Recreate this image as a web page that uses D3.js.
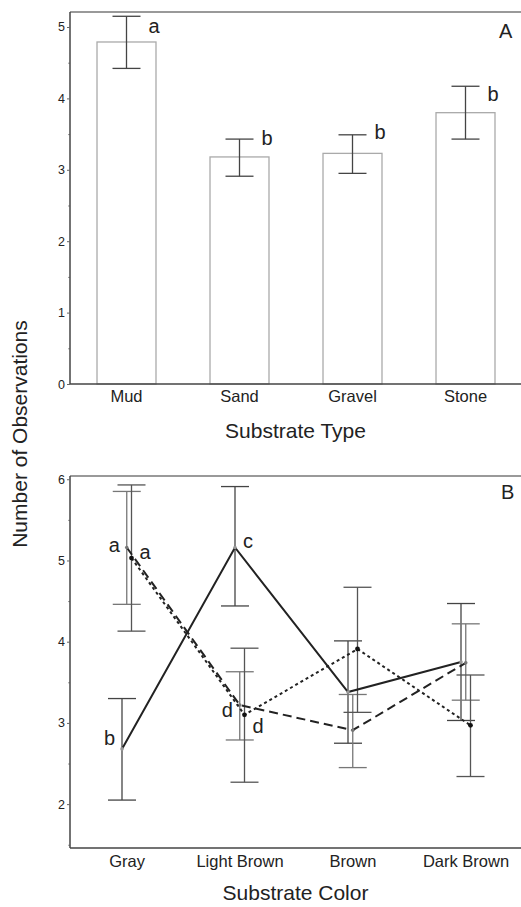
<!DOCTYPE html>
<html>
<head>
<meta charset="utf-8">
<script src="https://cdn.jsdelivr.net/npm/d3@7"></script>
<style>
  body { margin: 0; background: #fff; }
  svg text { font-family: "Liberation Sans", Arial, sans-serif; fill: #222; }
</style>
</head>
<body>
<div id="graph"></div>
<script>
// panel A: substrate type
let substrateTypes = ["Mud", "Sand", "Gravel", "Stone"];
let typeMeans = [4.79, 3.18, 3.23, 3.80];
let typeLow = [4.42, 2.91, 2.95, 3.43];
let typeHigh = [5.15, 3.43, 3.49, 4.17];
let typeLetters = ["a", "b", "b", "b"];
let typeLetterAt = [4.92, 3.35, 3.43, 3.97];

// panel B: substrate color, three groups
let substrateColors = ["Gray", "Light Brown", "Brown", "Dark Brown"];
let seriesNames = ["solid", "dashed", "dotted"];
let solidMeans = [2.68, 5.16, 3.38, 3.75];
let solidLow = [2.05, 4.44, 2.75, 3.03];
let solidHigh = [3.30, 5.91, 4.01, 4.47];
let dashedMeans = [5.16, 3.22, 2.91, 3.74];
let dashedLow = [4.46, 2.79, 2.45, 3.28];
let dashedHigh = [5.85, 3.63, 3.35, 4.22];
let dottedMeans = [5.03, 3.10, 3.91, 2.97];
let dottedLow = [4.13, 2.27, 3.13, 2.34];
let dottedHigh = [5.93, 3.92, 4.67, 3.59];
// letters: series, category, letter, side, baseline value
let colorLetterSeries = ["solid", "solid", "dashed", "dotted", "dashed", "dotted"];
let colorLetterCats = ["Gray", "Light Brown", "Gray", "Gray", "Light Brown", "Light Brown"];
let colorLetters = ["b", "c", "a", "a", "d", "d"];
let colorLetterSide = ["left", "right", "left", "right", "left", "right"];
let colorLetterAt = [2.73, 5.15, 5.10, 5.02, 3.07, 2.87];

let width = 521, height = 907;
let left = 70, right = 522;

let svg = d3.select("#graph")
    .append("svg")
    .attr("width", width)
    .attr("height", height);

// ---------- panel A ----------
let xA = d3.scaleBand()
    .domain(substrateTypes)
    .range([left, right])
    .paddingInner(0.478)
    .paddingOuter(0.239);

let yA = d3.scaleLinear()
    .domain([0, 5.21])
    .range([384, 12]);

let capW = 14;
let dataA = substrateTypes.map((d, i) => ({
    name: d, mean: typeMeans[i], lo: typeLow[i], hi: typeHigh[i],
    letter: typeLetters[i], at: typeLetterAt[i]
}));

let gA = svg.append("g");

// frame top line
gA.append("line")
    .attr("x1", left).attr("x2", width)
    .attr("y1", yA.range()[1]).attr("y2", yA.range()[1])
    .attr("stroke", "#777").attr("stroke-width", 1.5);

gA.selectAll("rect.bar")
    .data(dataA)
    .enter()
    .append("rect")
    .attr("class", "bar")
    .attr("x", d => xA(d.name))
    .attr("y", d => yA(d.mean))
    .attr("width", xA.bandwidth())
    .attr("height", d => yA(0) - yA(d.mean))
    .attr("fill", "#fff")
    .attr("stroke", "#aaa")
    .attr("stroke-width", 1.3);

let errA = gA.selectAll("g.err")
    .data(dataA)
    .enter()
    .append("g")
    .attr("class", "err")
    .attr("stroke", "#444")
    .attr("stroke-width", 1.3);

errA.append("line")
    .attr("x1", d => xA(d.name) + xA.bandwidth() / 2)
    .attr("x2", d => xA(d.name) + xA.bandwidth() / 2)
    .attr("y1", d => yA(d.lo))
    .attr("y2", d => yA(d.hi));
errA.append("line")
    .attr("x1", d => xA(d.name) + xA.bandwidth() / 2 - capW)
    .attr("x2", d => xA(d.name) + xA.bandwidth() / 2 + capW)
    .attr("y1", d => yA(d.hi)).attr("y2", d => yA(d.hi));
errA.append("line")
    .attr("x1", d => xA(d.name) + xA.bandwidth() / 2 - capW)
    .attr("x2", d => xA(d.name) + xA.bandwidth() / 2 + capW)
    .attr("y1", d => yA(d.lo)).attr("y2", d => yA(d.lo));

gA.selectAll("text.letter")
    .data(dataA)
    .enter()
    .append("text")
    .attr("class", "letter")
    .attr("x", d => xA(d.name) + xA.bandwidth() / 2 + capW + 8)
    .attr("y", d => yA(d.at))
    .style("font-size", "20px")
    .text(d => d.letter);

gA.append("text")
    .attr("x", 499).attr("y", 38)
    .style("font-size", "20px")
    .text("A");

drawYAxis(gA, yA, d3.range(0, 6, 1), d3.range(0.5, 5, 1));

gA.append("g")
    .attr("transform", `translate(0, ${yA(0)})`)
    .call(d3.axisBottom(xA).tickSize(0).tickPadding(6))
    .call(g => g.select(".domain").attr("d", `M${left},0H${width}`).attr("stroke", "#444").attr("stroke-width", 1.5))
    .call(g => g.selectAll("text").style("font-size", "16.5px").attr("fill", "#333"));

gA.append("text")
    .attr("x", (left + width) / 2).attr("y", 438)
    .style("text-anchor", "middle")
    .style("font-size", "21px")
    .text("Substrate Type");

// ---------- panel B ----------
let xB = d3.scalePoint()
    .domain(substrateColors)
    .range([left, right])
    .padding(0.5);

let dodge = d3.scalePoint()
    .domain(seriesNames)
    .range([-4.5, 5]);

let yB = d3.scaleLinear()
    .domain([1.46, 6.04])
    .range([848, 476]);

let seriesData = {
    solid: { means: solidMeans, lo: solidLow, hi: solidHigh, dash: null, marker: "#999", r: 1.8, err: "#444" },
    dashed: { means: dashedMeans, lo: dashedLow, hi: dashedHigh, dash: "9,5", marker: "#777", r: 1.8, err: "#777" },
    dotted: { means: dottedMeans, lo: dottedLow, hi: dottedHigh, dash: "3,3", marker: "#111", r: 2.4, err: "#555" }
};

let gB = svg.append("g");

gB.append("line")
    .attr("x1", left).attr("x2", width)
    .attr("y1", yB.range()[1]).attr("y2", yB.range()[1])
    .attr("stroke", "#777").attr("stroke-width", 1.5);

let px = (s, c) => xB(c) + dodge(s);

seriesNames.forEach(function (s) {
    let sd = seriesData[s];
    let pts = substrateColors.map((c, i) => ({ c: c, mean: sd.means[i], lo: sd.lo[i], hi: sd.hi[i] }));

    let eb = gB.append("g")
        .attr("stroke", sd.err)
        .attr("stroke-width", 1.3)
        .selectAll("g")
        .data(pts)
        .enter()
        .append("g");
    eb.append("line")
        .attr("x1", d => px(s, d.c)).attr("x2", d => px(s, d.c))
        .attr("y1", d => yB(d.lo)).attr("y2", d => yB(d.hi));
    eb.append("line")
        .attr("x1", d => px(s, d.c) - capW).attr("x2", d => px(s, d.c) + capW)
        .attr("y1", d => yB(d.hi)).attr("y2", d => yB(d.hi));
    eb.append("line")
        .attr("x1", d => px(s, d.c) - capW).attr("x2", d => px(s, d.c) + capW)
        .attr("y1", d => yB(d.lo)).attr("y2", d => yB(d.lo));
});

seriesNames.forEach(function (s) {
    let sd = seriesData[s];
    let pts = substrateColors.map((c, i) => ({ c: c, mean: sd.means[i] }));
    let line = d3.line()
        .x(d => px(s, d.c))
        .y(d => yB(d.mean));
    gB.append("path")
        .datum(pts)
        .attr("d", line)
        .attr("fill", "none")
        .attr("stroke", "#222")
        .attr("stroke-width", 2)
        .attr("stroke-dasharray", sd.dash);
    gB.selectAll(null)
        .data(pts)
        .enter()
        .append("circle")
        .attr("cx", d => px(s, d.c))
        .attr("cy", d => yB(d.mean))
        .attr("r", sd.r)
        .attr("fill", sd.marker);
});

let lettersB = colorLetters.map((l, i) => ({
    s: colorLetterSeries[i], c: colorLetterCats[i], letter: l,
    side: colorLetterSide[i], at: colorLetterAt[i]
}));

gB.selectAll("text.letter")
    .data(lettersB)
    .enter()
    .append("text")
    .attr("class", "letter")
    .attr("x", d => d.side == "left" ? px(d.s, d.c) - 7 : px(d.s, d.c) + 8)
    .attr("y", d => yB(d.at))
    .style("text-anchor", d => d.side == "left" ? "end" : "start")
    .style("font-size", "20px")
    .text(d => d.letter);

gB.append("text")
    .attr("x", 501).attr("y", 499)
    .style("font-size", "20px")
    .text("B");

drawYAxis(gB, yB, d3.range(2, 7, 1), d3.range(1.5, 6, 1));

gB.append("g")
    .attr("transform", `translate(0, ${yB.range()[0]})`)
    .call(d3.axisBottom(xB).tickSize(0).tickPadding(7))
    .call(g => g.select(".domain").attr("d", `M${left},0H${width}`).attr("stroke", "#444").attr("stroke-width", 1.5))
    .call(g => g.selectAll("text").style("font-size", "16.5px").attr("fill", "#333"));

gB.append("text")
    .attr("x", (left + width) / 2).attr("y", 900)
    .style("text-anchor", "middle")
    .style("font-size", "21px")
    .text("Substrate Color");

// shared y title
svg.append("text")
    .attr("transform", `translate(27, 434) rotate(-90)`)
    .style("text-anchor", "middle")
    .style("font-size", "21px")
    .text("Number of Observations");

function drawYAxis(g, y, major, minor) {
    g.append("g")
        .attr("transform", `translate(${left}, 0)`)
        .call(d3.axisLeft(y).tickValues(minor).tickSize(2).tickFormat(""))
        .call(a => a.select(".domain").remove())
        .call(a => a.selectAll("line").attr("stroke", "#999"));
    g.append("g")
        .attr("transform", `translate(${left}, 0)`)
        .call(d3.axisLeft(y).tickValues(major).tickSize(3).tickPadding(2).tickFormat(d3.format("d")))
        .call(a => a.select(".domain").attr("d", `M0,${y.range()[0]}V${y.range()[1]}`).attr("stroke", "#444").attr("stroke-width", 1.5))
        .call(a => a.selectAll("line").attr("stroke", "#666"))
        .call(a => a.selectAll("text").style("font-size", "12.5px").attr("fill", "#333"));
}
</script>
</body>
</html>
